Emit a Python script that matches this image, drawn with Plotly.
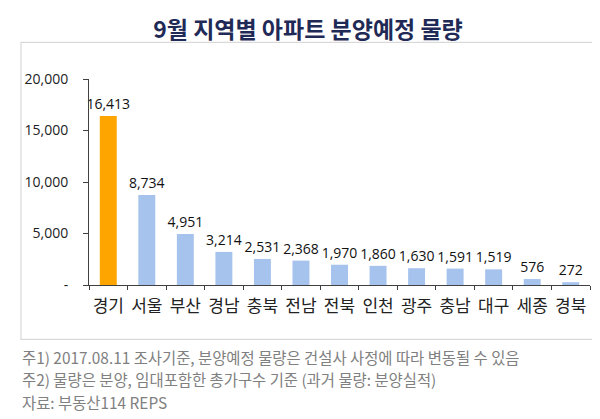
import plotly.graph_objects as go

regions = ['경기', '서울', '부산', '경남', '충북', '전남', '전북', '인천', '광주', '충남', '대구', '세종', '경북']
units = [16413, 8734, 4951, 3214, 2531, 2368, 1970, 1860, 1630, 1591, 1519, 576, 272]
highlight = '경기'

y_ticks = [0, 5000, 10000, 15000, 20000]
y_tick_text = ['-', '5,000', '10,000', '15,000', '20,000']

notes = [
    '주1) 2017.08.11 조사기준, 분양예정 물량은 건설사 사정에 따라 변동될 수 있음',
    '주2) 물량은 분양, 임대포함한 총가구수 기준 (과거 물량: 분양실적)',
    '자료: 부동산114 REPS',
]

kr = 'Noto Sans CJK KR'
colors = ['#FFA500' if r == highlight else '#A6C3EE' for r in regions]

fig = go.Figure(go.Bar(
    x=regions, y=units,
    marker=dict(color=colors, line=dict(width=0)),
    text=[f'{v:,}' for v in units],
    textposition='outside',
    constraintext='none',
    textfont=dict(family='Open Sans', size=14, color='#111'),
    cliponaxis=False,
))

# plot area is 81..582 px wide, 70.7..276.7 px high
W, L, T, H = 501, 81, 70.7, 206
def px(x):
    return (x - L) / W
def py(y):
    return (T + H - y) / H

fig.add_shape(type='rect', xref='paper', yref='paper',
              x0=px(13), x1=px(588), y0=py(331), y1=py(34),
              line=dict(color='#D9D9D9', width=1.2), layer='below')

for i, line in enumerate(notes):
    fig.add_annotation(text=line, xref='paper', yref='paper',
                       x=px(12), y=py(348.5 + i * 22.5), xanchor='left', yanchor='middle',
                       showarrow=False, font=dict(family=kr, size=15.4, color='#808080'))

fig.update_layout(
    width=600, height=419,
    margin=dict(l=L, r=600 - 582, t=T, b=419 - 276.7),
    paper_bgcolor='white', plot_bgcolor='white',
    showlegend=False,
    bargap=0.56,
    title=dict(text='<b>9월 지역별 아파트 분양예정 물량</b>', x=0.5, xanchor='center',
               y=1 - 21.7 / 419, yanchor='middle', yref='container',
               font=dict(family=kr, size=23, color='#1F2A56')),
)
fig.update_xaxes(
    showline=True, linecolor='#404040', linewidth=1,
    ticks='outside', tickson='boundaries', ticklen=4, tickcolor='#404040',
    tickangle=0, automargin=False, ticklabelstandoff=6,
    tickfont=dict(family=kr, size=17, color='#222'),
    showgrid=False,
)
fig.update_yaxes(
    range=[0, 20000], tickvals=y_ticks, ticktext=y_tick_text,
    showline=True, linecolor='#404040', linewidth=1,
    ticks='outside', ticklen=5, tickcolor='#404040',
    ticklabelstandoff=12, automargin=False,
    tickfont=dict(family='Open Sans', size=14, color='#222'),
    showgrid=False, zeroline=False,
)

fig.write_html('out.html')
